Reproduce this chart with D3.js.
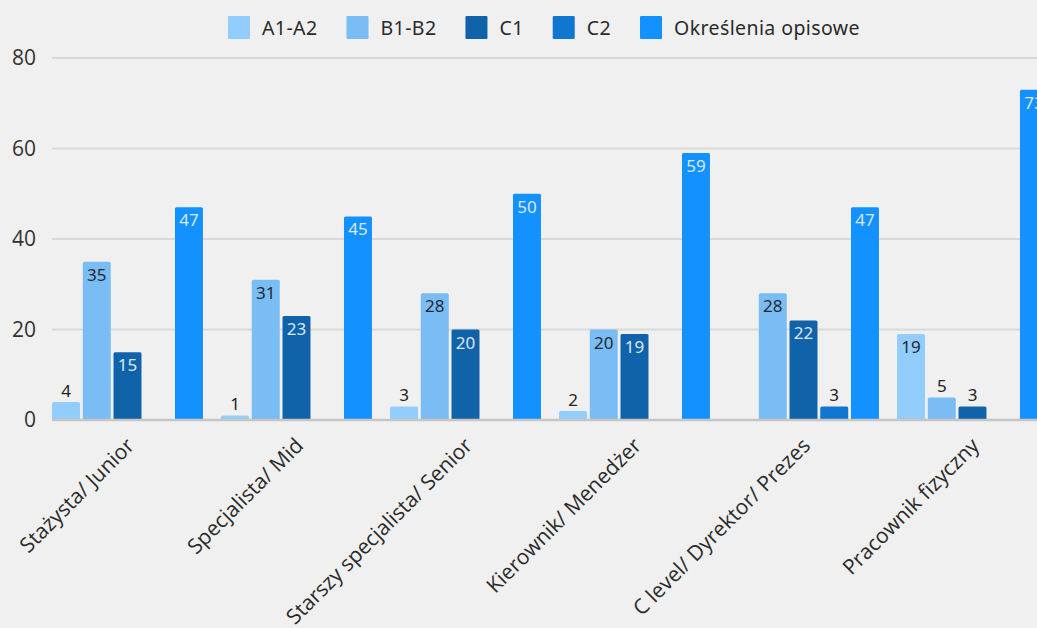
<!DOCTYPE html>
<html>
<head>
<meta charset="utf-8">
<script src="https://cdn.jsdelivr.net/npm/d3@7"></script>
<style>
  html, body { margin: 0; padding: 0; background: #f0f0f0; overflow: hidden; }
  svg { display: block; font-family: "Open Sans", "Noto Sans", sans-serif; }
</style>
</head>
<body>
<svg id="chart" width="1037" height="628"></svg>
<script>
const categories = ["Stażysta/ Junior", "Specjalista/ Mid", "Starszy specjalista/ Senior", "Kierownik/ Menedżer", "C level/ Dyrektor/ Prezes", "Pracownik fizyczny"];
const seriesNames = ["A1-A2", "B1-B2", "C1", "C2", "Określenia opisowe"];
const a1a2 = [4, 1, 3, 2, 0, 19];
const b1b2 = [35, 31, 28, 20, 28, 5];
const c1 = [15, 23, 20, 19, 22, 3];
const c2 = [0, 0, 0, 0, 3, 0];
const opisowe = [47, 45, 50, 59, 47, 73];
const yTicks = [0, 20, 40, 60, 80];
const colors = ["#93cdfd", "#7abcf4", "#1063a9", "#0f77d2", "#1291ff"];
const insideText = ["#1f2a33", "#1f2a33", "#dbe8f7", "#dbe8f7", "#dbe8f7"];

const seriesValues = [a1a2, b1b2, c1, c2, opisowe];
const W = 1037, H = 628;
const svg = d3.select("#chart");
svg.append("rect").attr("width", W).attr("height", H).attr("fill", "#f0f0f0");

const y = d3.scaleLinear().domain([0, 80]).range([420, 58]);
const x0 = d3.scaleBand().domain(categories).range([43, 1057]).paddingInner(0.107).paddingOuter(0.0535);
const x1 = d3.scaleBand().domain(seriesNames).range([0, x0.bandwidth()]).paddingInner(0.09);

// gridlines
svg.append("g").selectAll("line").data(yTicks.filter(t => t > 0)).join("line")
  .attr("x1", 52).attr("x2", W)
  .attr("y1", d => y(d)).attr("y2", d => y(d))
  .attr("stroke", "#d9d9d9").attr("stroke-width", 2);

// y axis labels
const yAxis = svg.append("g").attr("transform", "translate(40,0)")
  .call(d3.axisLeft(y).tickValues(yTicks).tickSize(0).tickPadding(4));
yAxis.select(".domain").remove();
yAxis.selectAll("text").attr("font-size", 21).attr("fill", "#333")
  .attr("font-family", "Open Sans, sans-serif");

// bars
const rows = [];
categories.forEach((c, i) => seriesNames.forEach((s, j) => {
  rows.push({cat: c, ser: s, j: j, v: seriesValues[j][i]});
}));
const data = rows.filter(d => d.v > 0);

svg.append("g").selectAll("rect").data(data).join("rect")
  .attr("x", d => x0(d.cat) + x1(d.ser))
  .attr("y", d => y(d.v))
  .attr("width", x1.bandwidth())
  .attr("height", d => y(0) - y(d.v))
  .attr("rx", 1.5)
  .attr("fill", d => colors[d.j]);

// baseline
svg.append("line").attr("x1", 52).attr("x2", W).attr("y1", y(0)).attr("y2", y(0))
  .attr("stroke", "#c6c6c6").attr("stroke-width", 2.5);

// value labels
svg.append("g").selectAll("text").data(data).join("text")
  .attr("x", d => x0(d.cat) + x1(d.ser) + x1.bandwidth() / 2)
  .attr("y", d => d.v >= 10 ? y(d.v) + 19 : y(d.v) - 5)
  .attr("text-anchor", "middle")
  .attr("font-size", 17)
  .attr("font-family", "Noto Sans, sans-serif")
  .attr("fill", d => d.v >= 10 ? insideText[d.j] : "#222")
  .text(d => d.v);

// x axis labels
const xAxis = svg.append("g").attr("transform", `translate(0,${y(0)})`)
  .call(d3.axisBottom(x0).tickSize(0).tickPadding(0));
xAxis.select(".domain").remove();
xAxis.selectAll("text")
  .attr("font-size", 21).attr("fill", "#2a2a2a")
  .attr("font-family", "Open Sans, sans-serif")
  .attr("text-anchor", "end")
  .attr("dy", 0)
  .attr("transform", "translate(8,27) rotate(-45)");

// legend
const legend = svg.append("g");
let lx = 228;
seriesNames.forEach((s, j) => {
  legend.append("rect").attr("x", lx).attr("y", 16).attr("width", 22).attr("height", 23)
    .attr("rx", 1).attr("fill", colors[j]);
  const t = legend.append("text").attr("x", lx + 34).attr("y", 35)
    .attr("font-size", 19.5).attr("letter-spacing", 0.4).attr("fill", "#2a2a2a")
    .attr("font-family", "Noto Sans, sans-serif").text(s);
  lx = lx + 34 + t.node().getComputedTextLength() + 29;
});
</script>
</body>
</html>
